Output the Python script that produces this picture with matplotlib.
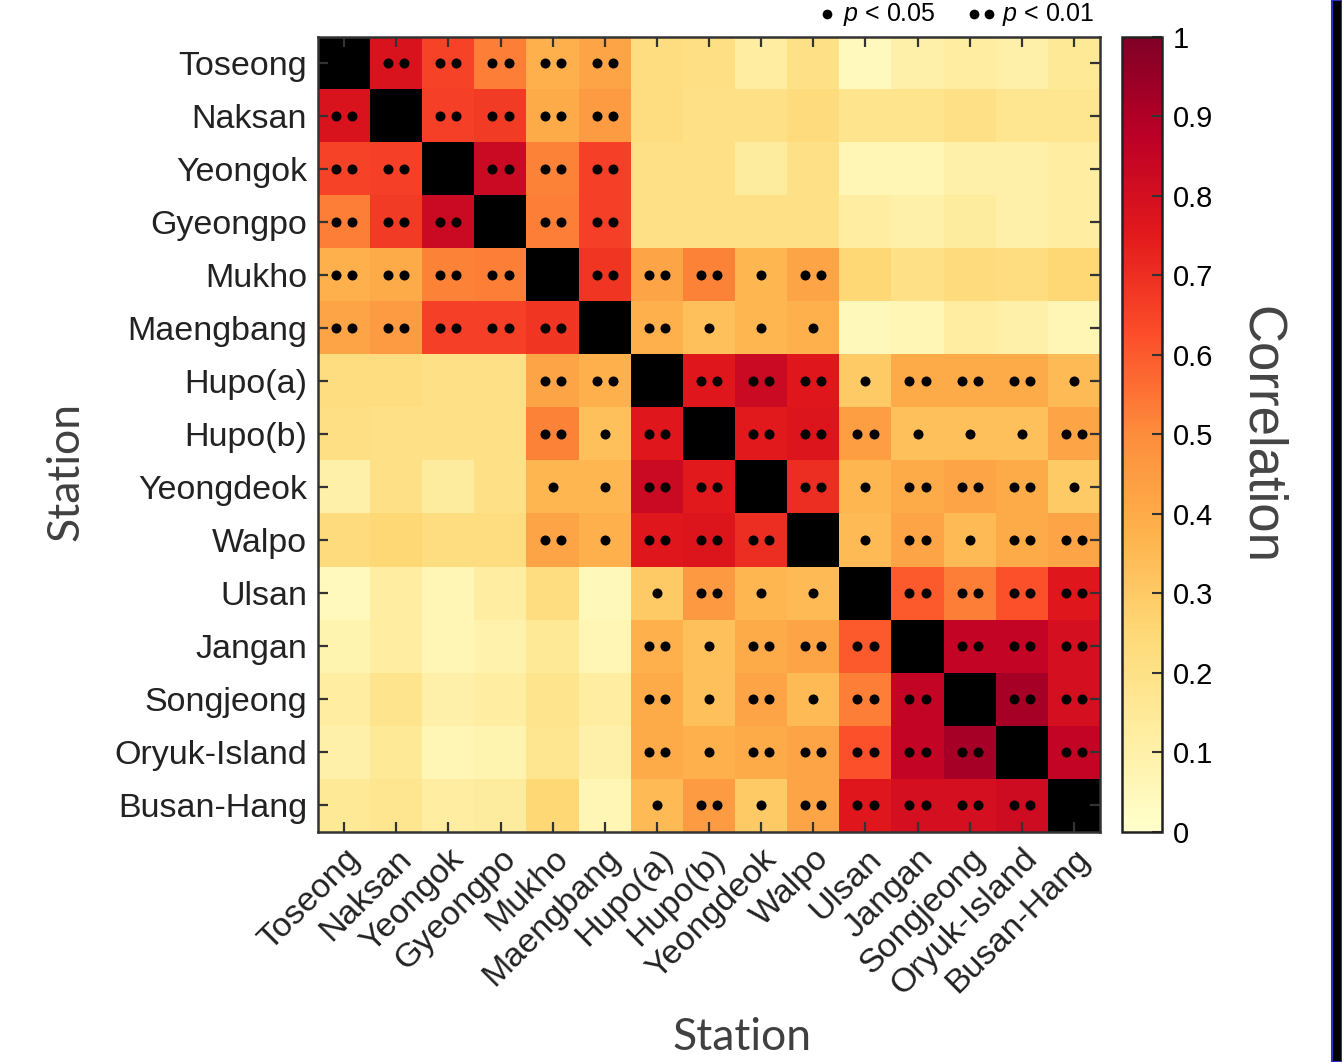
import numpy as np
import matplotlib
matplotlib.use("Agg")
import matplotlib.pyplot as plt
from matplotlib.patches import Rectangle
from matplotlib.lines import Line2D

plt.rcParams['font.family'] = ['Liberation Sans', 'DejaVu Sans']
plt.rcParams['mathtext.fontset'] = 'custom'
plt.rcParams['mathtext.it'] = 'Liberation Sans:italic'
plt.rcParams['mathtext.rm'] = 'Liberation Sans'

stations = ["Toseong", "Naksan", "Yeongok", "Gyeongpo", "Mukho", "Maengbang",
            "Hupo(a)", "Hupo(b)", "Yeongdeok", "Walpo", "Ulsan", "Jangan",
            "Songjeong", "Oryuk-Island", "Busan-Hang"]

# correlation values (diagonal drawn black)
corr = np.array([
    [1.00, 0.78, 0.65, 0.53, 0.38, 0.42, 0.22, 0.21, 0.12, 0.20, 0.04, 0.10, 0.12, 0.10, 0.15],
    [0.78, 1.00, 0.66, 0.67, 0.40, 0.45, 0.22, 0.20, 0.20, 0.23, 0.18, 0.18, 0.20, 0.17, 0.17],
    [0.65, 0.66, 1.00, 0.83, 0.52, 0.66, 0.20, 0.20, 0.13, 0.20, 0.07, 0.07, 0.10, 0.10, 0.12],
    [0.53, 0.67, 0.83, 1.00, 0.53, 0.66, 0.20, 0.20, 0.20, 0.20, 0.12, 0.10, 0.13, 0.10, 0.12],
    [0.38, 0.40, 0.52, 0.53, 1.00, 0.68, 0.42, 0.52, 0.36, 0.42, 0.25, 0.20, 0.23, 0.22, 0.25],
    [0.42, 0.45, 0.66, 0.66, 0.68, 1.00, 0.38, 0.33, 0.36, 0.38, 0.05, 0.07, 0.12, 0.10, 0.07],
    [0.22, 0.22, 0.20, 0.20, 0.42, 0.38, 1.00, 0.76, 0.83, 0.76, 0.30, 0.40, 0.40, 0.40, 0.35],
    [0.21, 0.20, 0.20, 0.20, 0.52, 0.33, 0.76, 1.00, 0.75, 0.77, 0.44, 0.33, 0.33, 0.33, 0.42],
    [0.10, 0.20, 0.13, 0.20, 0.36, 0.36, 0.83, 0.75, 1.00, 0.70, 0.36, 0.40, 0.42, 0.40, 0.30],
    [0.23, 0.25, 0.22, 0.22, 0.42, 0.38, 0.76, 0.77, 0.70, 1.00, 0.35, 0.42, 0.35, 0.40, 0.42],
    [0.04, 0.12, 0.07, 0.12, 0.22, 0.05, 0.30, 0.46, 0.36, 0.35, 1.00, 0.60, 0.53, 0.62, 0.76],
    [0.08, 0.12, 0.07, 0.09, 0.15, 0.07, 0.38, 0.33, 0.40, 0.42, 0.60, 1.00, 0.85, 0.85, 0.80],
    [0.12, 0.18, 0.10, 0.12, 0.18, 0.12, 0.40, 0.33, 0.42, 0.35, 0.53, 0.85, 1.00, 0.92, 0.80],
    [0.10, 0.15, 0.07, 0.08, 0.17, 0.10, 0.40, 0.38, 0.40, 0.42, 0.62, 0.85, 0.92, 1.00, 0.85],
    [0.15, 0.17, 0.12, 0.13, 0.25, 0.07, 0.35, 0.45, 0.30, 0.42, 0.76, 0.80, 0.80, 0.82, 1.00],
])

# 0 = not significant, 1 = p<0.05, 2 = p<0.01
sig = np.array([
    [0, 2, 2, 2, 2, 2, 0, 0, 0, 0, 0, 0, 0, 0, 0],
    [2, 0, 2, 2, 2, 2, 0, 0, 0, 0, 0, 0, 0, 0, 0],
    [2, 2, 0, 2, 2, 2, 0, 0, 0, 0, 0, 0, 0, 0, 0],
    [2, 2, 2, 0, 2, 2, 0, 0, 0, 0, 0, 0, 0, 0, 0],
    [2, 2, 2, 2, 0, 2, 2, 2, 1, 2, 0, 0, 0, 0, 0],
    [2, 2, 2, 2, 2, 0, 2, 1, 1, 1, 0, 0, 0, 0, 0],
    [0, 0, 0, 0, 2, 2, 0, 2, 2, 2, 1, 2, 2, 2, 1],
    [0, 0, 0, 0, 2, 1, 2, 0, 2, 2, 2, 1, 1, 1, 2],
    [0, 0, 0, 0, 1, 1, 2, 2, 0, 2, 1, 2, 2, 2, 1],
    [0, 0, 0, 0, 2, 1, 2, 2, 2, 0, 1, 2, 1, 2, 2],
    [0, 0, 0, 0, 0, 0, 1, 2, 1, 1, 0, 2, 2, 2, 2],
    [0, 0, 0, 0, 0, 0, 2, 1, 2, 2, 2, 0, 2, 2, 2],
    [0, 0, 0, 0, 0, 0, 2, 1, 2, 1, 2, 2, 0, 2, 2],
    [0, 0, 0, 0, 0, 0, 2, 1, 2, 2, 2, 2, 2, 0, 2],
    [0, 0, 0, 0, 0, 0, 1, 2, 1, 2, 2, 2, 2, 2, 0],
])

n = len(stations)
fig = plt.figure(figsize=(13.42, 10.62), dpi=100)
ax = fig.add_axes([0.237, 0.2166, 0.5827, 0.7486])
cax = fig.add_axes([0.836, 0.2166, 0.0298, 0.7486])

cmap = plt.get_cmap('YlOrRd').copy()
cmap.set_bad('black')
data = np.ma.masked_where(np.eye(n, dtype=bool), corr)
im = ax.imshow(data, cmap=cmap, vmin=0, vmax=1, aspect='auto', interpolation='nearest')

# significance dots
off = 0.155
for i in range(n):
    for j in range(n):
        if sig[i, j] == 1:
            ax.plot(j, i, 'o', color='black', ms=7.2, mec='none')
        elif sig[i, j] == 2:
            ax.plot([j - off, j + off], [i, i], 'o', color='black', ms=7.2, mec='none', ls='none')

ax.set_xlim(-0.5, n - 0.5)
ax.set_ylim(n - 0.5, -0.5)
ax.set_xticks(range(n))
ax.set_yticks(range(n))
ax.set_xticklabels(stations, rotation=45, ha='right', rotation_mode='anchor', fontsize=24.5, color='#222222')
ax.set_yticklabels(stations, fontsize=24.5, color='#222222')
ax.tick_params(direction='in', length=7, width=1.6, color='#333333', top=True, right=True, pad=8)
for sp in ax.spines.values():
    sp.set_linewidth(1.8)
    sp.set_color('#333333')

ax.set_xlabel("Station", fontsize=32, family='Lato', color='#404040', va='center')
ax.set_ylabel("Station", fontsize=32, family='Lato', color='#404040', va='center')
ax.xaxis.set_label_coords(0.542, -0.259)
ax.yaxis.set_label_coords(-0.322, 0.453)

cb = fig.colorbar(im, cax=cax, ticks=np.arange(0, 1.01, 0.1))
cb.ax.set_yticklabels(['%g' % t for t in np.round(np.arange(0, 1.01, 0.1), 1)])
cb.ax.tick_params(direction='in', length=7, width=1.5, labelsize=21, color='#333333', pad=8)
cb.outline.set_linewidth(1.8)
cb.outline.set_edgecolor('#222222')
cb.set_label("Correlation", fontsize=38, color='#444444', rotation=270, labelpad=52)

# significance legend above the plot
ly = 1 - 14 / 1062
fig.add_artist(Line2D([827 / 1342], [ly], marker='o', ms=7, color='black', mec='none',
                      ls='none', transform=fig.transFigure))
fig.add_artist(Line2D([974 / 1342, 989 / 1342], [ly, ly], marker='o', ms=7, color='black',
                      mec='none', ls='none', transform=fig.transFigure))
fig.text(843 / 1342, ly, r"$\mathit{p}$ < 0.05", fontsize=18, ha='left', va='center')
fig.text(1002 / 1342, ly, r"$\mathit{p}$ < 0.01", fontsize=18, ha='left', va='center')

# dark strip at right edge of the screenshot
fig.patches.append(Rectangle((0.9925, 0), 0.0075, 1, transform=fig.transFigure,
                             facecolor='black', edgecolor='#3030c0', linewidth=1.5))

fig.savefig("out.png", dpi=100)
